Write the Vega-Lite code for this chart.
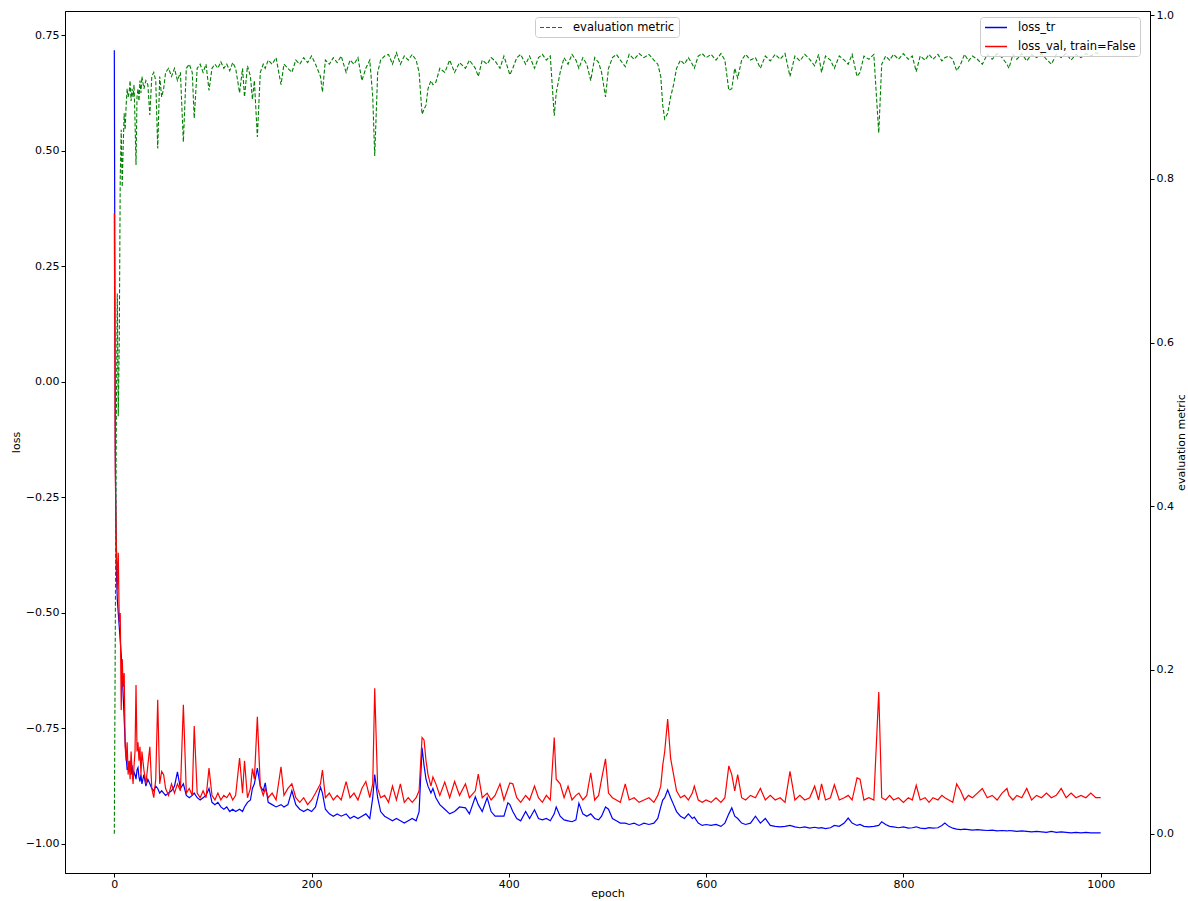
{
  "$schema": "https://vega.github.io/schema/vega-lite/v6.json",
  "width": 1085,
  "height": 862,
  "autosize": {"type": "none"},
  "padding": {"left": 65, "top": 11, "right": 38, "bottom": 28},
  "background": "white",
  "config": {
    "font": "DejaVu Sans",
    "view": {"stroke": "black", "strokeWidth": 1},
    "axis": {"grid": false, "labelFont": "DejaVu Sans", "titleFont": "DejaVu Sans", "labelFontSize": 11, "titleFontSize": 11, "titleFontWeight": "normal", "labelColor": "black", "titleColor": "black", "domainColor": "black", "tickColor": "black", "tickSize": 4, "labelPadding": 2, "domainWidth": 1, "tickWidth": 1, "labelFlush": false, "labelOverlap": false},
    "legend": {"labelFont": "DejaVu Sans", "labelFontSize": 11.5, "labelColor": "black", "symbolType": "M-1,0H3", "symbolSize": 121, "symbolStrokeWidth": 1.5, "padding": 4, "strokeColor": "#cccccc", "fillColor": "rgba(255,255,255,0.8)", "cornerRadius": 3, "rowPadding": 7, "labelOffset": 21, "orient": "none"}
  },
  "data": {"values": [
    {"epoch":0,"loss_tr":0.718,"loss_val":0.365,"metric":0.0},
    {"epoch":1,"loss_tr":-0.15,"loss_val":-0.2,"metric":0.25},
    {"epoch":2,"loss_tr":-0.4,"loss_val":-0.34,"metric":0.5},
    {"epoch":3,"loss_tr":-0.47,"loss_val":-0.45,"metric":0.66},
    {"epoch":4,"loss_tr":-0.5,"loss_val":-0.37,"metric":0.51},
    {"epoch":5,"loss_tr":-0.53,"loss_val":-0.52,"metric":0.6},
    {"epoch":6,"loss_tr":-0.56,"loss_val":-0.5,"metric":0.8},
    {"epoch":7,"loss_tr":-0.59,"loss_val":-0.71,"metric":0.86},
    {"epoch":8,"loss_tr":-0.63,"loss_val":-0.6,"metric":0.79},
    {"epoch":9,"loss_tr":-0.68,"loss_val":-0.66,"metric":0.84},
    {"epoch":10,"loss_tr":-0.73,"loss_val":-0.63,"metric":0.88},
    {"epoch":11,"loss_tr":-0.78,"loss_val":-0.79,"metric":0.86},
    {"epoch":12,"loss_tr":-0.81,"loss_val":-0.82,"metric":0.89},
    {"epoch":13,"loss_tr":-0.84,"loss_val":-0.78,"metric":0.91},
    {"epoch":14,"loss_tr":-0.835,"loss_val":-0.85,"metric":0.9},
    {"epoch":15,"loss_tr":-0.845,"loss_val":-0.82,"metric":0.905},
    {"epoch":16,"loss_tr":-0.82,"loss_val":-0.86,"metric":0.92},
    {"epoch":17,"loss_tr":-0.85,"loss_val":-0.8,"metric":0.895},
    {"epoch":18,"loss_tr":-0.83,"loss_val":-0.84,"metric":0.91},
    {"epoch":19,"loss_tr":-0.86,"loss_val":-0.87,"metric":0.9},
    {"epoch":20,"loss_tr":-0.845,"loss_val":-0.83,"metric":0.915},
    {"epoch":21,"loss_tr":-0.85,"loss_val":-0.8,"metric":0.87},
    {"epoch":22,"loss_tr":-0.86,"loss_val":-0.656,"metric":0.817},
    {"epoch":23,"loss_tr":-0.84,"loss_val":-0.8,"metric":0.9},
    {"epoch":24,"loss_tr":-0.835,"loss_val":-0.78,"metric":0.91},
    {"epoch":25,"loss_tr":-0.855,"loss_val":-0.82,"metric":0.895},
    {"epoch":26,"loss_tr":-0.865,"loss_val":-0.79,"metric":0.92},
    {"epoch":27,"loss_tr":-0.85,"loss_val":-0.85,"metric":0.905},
    {"epoch":28,"loss_tr":-0.87,"loss_val":-0.8,"metric":0.925},
    {"epoch":30,"loss_tr":-0.85,"loss_val":-0.84,"metric":0.91},
    {"epoch":32,"loss_tr":-0.875,"loss_val":-0.87,"metric":0.92},
    {"epoch":34,"loss_tr":-0.86,"loss_val":-0.83,"metric":0.915},
    {"epoch":36,"loss_tr":-0.87,"loss_val":-0.79,"metric":0.878},
    {"epoch":38,"loss_tr":-0.88,"loss_val":-0.88,"metric":0.925},
    {"epoch":40,"loss_tr":-0.885,"loss_val":-0.9,"metric":0.93},
    {"epoch":42,"loss_tr":-0.875,"loss_val":-0.86,"metric":0.92},
    {"epoch":44,"loss_tr":-0.88,"loss_val":-0.688,"metric":0.837},
    {"epoch":46,"loss_tr":-0.89,"loss_val":-0.87,"metric":0.925},
    {"epoch":48,"loss_tr":-0.885,"loss_val":-0.843,"metric":0.9},
    {"epoch":50,"loss_tr":-0.89,"loss_val":-0.85,"metric":0.91},
    {"epoch":52,"loss_tr":-0.895,"loss_val":-0.88,"metric":0.93},
    {"epoch":55,"loss_tr":-0.89,"loss_val":-0.895,"metric":0.935},
    {"epoch":58,"loss_tr":-0.885,"loss_val":-0.87,"metric":0.925},
    {"epoch":61,"loss_tr":-0.875,"loss_val":-0.89,"metric":0.935},
    {"epoch":64,"loss_tr":-0.844,"loss_val":-0.87,"metric":0.92},
    {"epoch":67,"loss_tr":-0.88,"loss_val":-0.885,"metric":0.93},
    {"epoch":70,"loss_tr":-0.87,"loss_val":-0.699,"metric":0.845},
    {"epoch":73,"loss_tr":-0.895,"loss_val":-0.89,"metric":0.935},
    {"epoch":76,"loss_tr":-0.9,"loss_val":-0.88,"metric":0.94},
    {"epoch":79,"loss_tr":-0.895,"loss_val":-0.895,"metric":0.93},
    {"epoch":81,"loss_tr":-0.89,"loss_val":-0.745,"metric":0.874},
    {"epoch":84,"loss_tr":-0.9,"loss_val":-0.89,"metric":0.935},
    {"epoch":87,"loss_tr":-0.905,"loss_val":-0.9,"metric":0.94},
    {"epoch":90,"loss_tr":-0.9,"loss_val":-0.885,"metric":0.93},
    {"epoch":93,"loss_tr":-0.895,"loss_val":-0.9,"metric":0.94},
    {"epoch":96,"loss_tr":-0.88,"loss_val":-0.836,"metric":0.908},
    {"epoch":99,"loss_tr":-0.91,"loss_val":-0.895,"metric":0.935},
    {"epoch":102,"loss_tr":-0.915,"loss_val":-0.905,"metric":0.94},
    {"epoch":105,"loss_tr":-0.91,"loss_val":-0.89,"metric":0.935},
    {"epoch":108,"loss_tr":-0.92,"loss_val":-0.905,"metric":0.943},
    {"epoch":111,"loss_tr":-0.925,"loss_val":-0.895,"metric":0.935},
    {"epoch":114,"loss_tr":-0.92,"loss_val":-0.9,"metric":0.94},
    {"epoch":117,"loss_tr":-0.93,"loss_val":-0.89,"metric":0.932},
    {"epoch":120,"loss_tr":-0.925,"loss_val":-0.905,"metric":0.942},
    {"epoch":123,"loss_tr":-0.93,"loss_val":-0.895,"metric":0.935},
    {"epoch":127,"loss_tr":-0.925,"loss_val":-0.814,"metric":0.905},
    {"epoch":130,"loss_tr":-0.93,"loss_val":-0.89,"metric":0.935},
    {"epoch":132,"loss_tr":-0.92,"loss_val":-0.82,"metric":0.9},
    {"epoch":135,"loss_tr":-0.91,"loss_val":-0.9,"metric":0.938},
    {"epoch":138,"loss_tr":-0.905,"loss_val":-0.88,"metric":0.925},
    {"epoch":140,"loss_tr":-0.88,"loss_val":-0.837,"metric":0.897},
    {"epoch":142,"loss_tr":-0.87,"loss_val":-0.86,"metric":0.92},
    {"epoch":145,"loss_tr":-0.836,"loss_val":-0.725,"metric":0.851},
    {"epoch":148,"loss_tr":-0.875,"loss_val":-0.875,"metric":0.93},
    {"epoch":151,"loss_tr":-0.885,"loss_val":-0.895,"metric":0.94},
    {"epoch":153,"loss_tr":-0.868,"loss_val":-0.88,"metric":0.935},
    {"epoch":156,"loss_tr":-0.91,"loss_val":-0.9,"metric":0.945},
    {"epoch":160,"loss_tr":-0.915,"loss_val":-0.89,"metric":0.94},
    {"epoch":164,"loss_tr":-0.92,"loss_val":-0.905,"metric":0.948},
    {"epoch":169,"loss_tr":-0.915,"loss_val":-0.833,"metric":0.915},
    {"epoch":172,"loss_tr":-0.92,"loss_val":-0.895,"metric":0.94},
    {"epoch":176,"loss_tr":-0.915,"loss_val":-0.88,"metric":0.935},
    {"epoch":180,"loss_tr":-0.885,"loss_val":-0.87,"metric":0.93},
    {"epoch":184,"loss_tr":-0.915,"loss_val":-0.9,"metric":0.945},
    {"epoch":188,"loss_tr":-0.925,"loss_val":-0.91,"metric":0.94},
    {"epoch":192,"loss_tr":-0.93,"loss_val":-0.9,"metric":0.948},
    {"epoch":196,"loss_tr":-0.925,"loss_val":-0.915,"metric":0.942},
    {"epoch":200,"loss_tr":-0.93,"loss_val":-0.905,"metric":0.95},
    {"epoch":204,"loss_tr":-0.92,"loss_val":-0.89,"metric":0.94},
    {"epoch":209,"loss_tr":-0.877,"loss_val":-0.87,"metric":0.925},
    {"epoch":211,"loss_tr":-0.89,"loss_val":-0.84,"metric":0.906},
    {"epoch":214,"loss_tr":-0.925,"loss_val":-0.9,"metric":0.945},
    {"epoch":218,"loss_tr":-0.935,"loss_val":-0.89,"metric":0.94},
    {"epoch":222,"loss_tr":-0.94,"loss_val":-0.905,"metric":0.948},
    {"epoch":226,"loss_tr":-0.935,"loss_val":-0.895,"metric":0.942},
    {"epoch":230,"loss_tr":-0.94,"loss_val":-0.905,"metric":0.95},
    {"epoch":235,"loss_tr":-0.935,"loss_val":-0.865,"metric":0.93},
    {"epoch":239,"loss_tr":-0.945,"loss_val":-0.9,"metric":0.945},
    {"epoch":243,"loss_tr":-0.94,"loss_val":-0.89,"metric":0.94},
    {"epoch":247,"loss_tr":-0.945,"loss_val":-0.905,"metric":0.948},
    {"epoch":251,"loss_tr":-0.94,"loss_val":-0.88,"metric":0.92},
    {"epoch":255,"loss_tr":-0.935,"loss_val":-0.865,"metric":0.935},
    {"epoch":259,"loss_tr":-0.945,"loss_val":-0.9,"metric":0.945},
    {"epoch":262,"loss_tr":-0.9,"loss_val":-0.87,"metric":0.9},
    {"epoch":264,"loss_tr":-0.85,"loss_val":-0.663,"metric":0.828},
    {"epoch":267,"loss_tr":-0.9,"loss_val":-0.88,"metric":0.93},
    {"epoch":270,"loss_tr":-0.93,"loss_val":-0.9,"metric":0.945},
    {"epoch":274,"loss_tr":-0.94,"loss_val":-0.895,"metric":0.95},
    {"epoch":278,"loss_tr":-0.945,"loss_val":-0.91,"metric":0.952},
    {"epoch":282,"loss_tr":-0.95,"loss_val":-0.875,"metric":0.94},
    {"epoch":286,"loss_tr":-0.945,"loss_val":-0.905,"metric":0.954},
    {"epoch":290,"loss_tr":-0.95,"loss_val":-0.87,"metric":0.94},
    {"epoch":294,"loss_tr":-0.955,"loss_val":-0.91,"metric":0.95},
    {"epoch":298,"loss_tr":-0.95,"loss_val":-0.9,"metric":0.945},
    {"epoch":302,"loss_tr":-0.945,"loss_val":-0.91,"metric":0.952},
    {"epoch":306,"loss_tr":-0.95,"loss_val":-0.9,"metric":0.945},
    {"epoch":309,"loss_tr":-0.93,"loss_val":-0.885,"metric":0.93},
    {"epoch":312,"loss_tr":-0.792,"loss_val":-0.77,"metric":0.879},
    {"epoch":314,"loss_tr":-0.83,"loss_val":-0.775,"metric":0.885},
    {"epoch":316,"loss_tr":-0.86,"loss_val":-0.82,"metric":0.89},
    {"epoch":318,"loss_tr":-0.875,"loss_val":-0.85,"metric":0.91},
    {"epoch":321,"loss_tr":-0.89,"loss_val":-0.875,"metric":0.92},
    {"epoch":323,"loss_tr":-0.88,"loss_val":-0.855,"metric":0.915},
    {"epoch":326,"loss_tr":-0.9,"loss_val":-0.87,"metric":0.918},
    {"epoch":330,"loss_tr":-0.915,"loss_val":-0.895,"metric":0.935},
    {"epoch":335,"loss_tr":-0.925,"loss_val":-0.866,"metric":0.93},
    {"epoch":340,"loss_tr":-0.935,"loss_val":-0.9,"metric":0.945},
    {"epoch":345,"loss_tr":-0.93,"loss_val":-0.865,"metric":0.93},
    {"epoch":350,"loss_tr":-0.92,"loss_val":-0.895,"metric":0.942},
    {"epoch":356,"loss_tr":-0.922,"loss_val":-0.87,"metric":0.935},
    {"epoch":360,"loss_tr":-0.935,"loss_val":-0.9,"metric":0.945},
    {"epoch":366,"loss_tr":-0.898,"loss_val":-0.885,"metric":0.935},
    {"epoch":369,"loss_tr":-0.915,"loss_val":-0.849,"metric":0.925},
    {"epoch":373,"loss_tr":-0.93,"loss_val":-0.9,"metric":0.945},
    {"epoch":378,"loss_tr":-0.9,"loss_val":-0.89,"metric":0.94},
    {"epoch":382,"loss_tr":-0.93,"loss_val":-0.905,"metric":0.948},
    {"epoch":386,"loss_tr":-0.94,"loss_val":-0.895,"metric":0.944},
    {"epoch":391,"loss_tr":-0.94,"loss_val":-0.87,"metric":0.935},
    {"epoch":395,"loss_tr":-0.94,"loss_val":-0.905,"metric":0.95},
    {"epoch":399,"loss_tr":-0.911,"loss_val":-0.88,"metric":0.935},
    {"epoch":401,"loss_tr":-0.915,"loss_val":-0.868,"metric":0.927},
    {"epoch":404,"loss_tr":-0.93,"loss_val":-0.87,"metric":0.935},
    {"epoch":408,"loss_tr":-0.945,"loss_val":-0.9,"metric":0.948},
    {"epoch":412,"loss_tr":-0.95,"loss_val":-0.91,"metric":0.952},
    {"epoch":417,"loss_tr":-0.93,"loss_val":-0.895,"metric":0.94},
    {"epoch":421,"loss_tr":-0.945,"loss_val":-0.905,"metric":0.95},
    {"epoch":426,"loss_tr":-0.926,"loss_val":-0.875,"metric":0.935},
    {"epoch":430,"loss_tr":-0.945,"loss_val":-0.9,"metric":0.948},
    {"epoch":434,"loss_tr":-0.948,"loss_val":-0.91,"metric":0.952},
    {"epoch":438,"loss_tr":-0.945,"loss_val":-0.895,"metric":0.945},
    {"epoch":442,"loss_tr":-0.95,"loss_val":-0.905,"metric":0.95},
    {"epoch":446,"loss_tr":-0.935,"loss_val":-0.77,"metric":0.877},
    {"epoch":448,"loss_tr":-0.92,"loss_val":-0.86,"metric":0.905},
    {"epoch":452,"loss_tr":-0.94,"loss_val":-0.87,"metric":0.93},
    {"epoch":456,"loss_tr":-0.948,"loss_val":-0.9,"metric":0.948},
    {"epoch":460,"loss_tr":-0.95,"loss_val":-0.875,"metric":0.94},
    {"epoch":464,"loss_tr":-0.952,"loss_val":-0.905,"metric":0.952},
    {"epoch":468,"loss_tr":-0.948,"loss_val":-0.895,"metric":0.945},
    {"epoch":471,"loss_tr":-0.912,"loss_val":-0.89,"metric":0.935},
    {"epoch":475,"loss_tr":-0.935,"loss_val":-0.905,"metric":0.948},
    {"epoch":479,"loss_tr":-0.94,"loss_val":-0.895,"metric":0.94},
    {"epoch":483,"loss_tr":-0.935,"loss_val":-0.846,"metric":0.92},
    {"epoch":487,"loss_tr":-0.945,"loss_val":-0.905,"metric":0.948},
    {"epoch":491,"loss_tr":-0.948,"loss_val":-0.895,"metric":0.942},
    {"epoch":494,"loss_tr":-0.94,"loss_val":-0.86,"metric":0.93},
    {"epoch":498,"loss_tr":-0.92,"loss_val":-0.816,"metric":0.9},
    {"epoch":501,"loss_tr":-0.925,"loss_val":-0.89,"metric":0.935},
    {"epoch":505,"loss_tr":-0.945,"loss_val":-0.9,"metric":0.948},
    {"epoch":509,"loss_tr":-0.95,"loss_val":-0.905,"metric":0.952},
    {"epoch":513,"loss_tr":-0.955,"loss_val":-0.91,"metric":0.945},
    {"epoch":518,"loss_tr":-0.955,"loss_val":-0.87,"metric":0.937},
    {"epoch":522,"loss_tr":-0.958,"loss_val":-0.905,"metric":0.952},
    {"epoch":527,"loss_tr":-0.955,"loss_val":-0.9,"metric":0.946},
    {"epoch":532,"loss_tr":-0.96,"loss_val":-0.91,"metric":0.953},
    {"epoch":537,"loss_tr":-0.955,"loss_val":-0.905,"metric":0.948},
    {"epoch":542,"loss_tr":-0.958,"loss_val":-0.9,"metric":0.952},
    {"epoch":547,"loss_tr":-0.955,"loss_val":-0.91,"metric":0.945},
    {"epoch":551,"loss_tr":-0.945,"loss_val":-0.895,"metric":0.94},
    {"epoch":554,"loss_tr":-0.92,"loss_val":-0.875,"metric":0.925},
    {"epoch":556,"loss_tr":-0.905,"loss_val":-0.83,"metric":0.89},
    {"epoch":558,"loss_tr":-0.9,"loss_val":-0.8,"metric":0.873},
    {"epoch":561,"loss_tr":-0.883,"loss_val":-0.73,"metric":0.88},
    {"epoch":564,"loss_tr":-0.9,"loss_val":-0.815,"metric":0.9},
    {"epoch":567,"loss_tr":-0.915,"loss_val":-0.85,"metric":0.915},
    {"epoch":570,"loss_tr":-0.93,"loss_val":-0.885,"metric":0.935},
    {"epoch":574,"loss_tr":-0.94,"loss_val":-0.9,"metric":0.945},
    {"epoch":578,"loss_tr":-0.945,"loss_val":-0.895,"metric":0.94},
    {"epoch":582,"loss_tr":-0.935,"loss_val":-0.905,"metric":0.948},
    {"epoch":586,"loss_tr":-0.945,"loss_val":-0.89,"metric":0.94},
    {"epoch":588,"loss_tr":-0.942,"loss_val":-0.875,"metric":0.935},
    {"epoch":592,"loss_tr":-0.955,"loss_val":-0.905,"metric":0.95},
    {"epoch":596,"loss_tr":-0.96,"loss_val":-0.91,"metric":0.953},
    {"epoch":600,"loss_tr":-0.958,"loss_val":-0.905,"metric":0.948},
    {"epoch":605,"loss_tr":-0.96,"loss_val":-0.91,"metric":0.952},
    {"epoch":610,"loss_tr":-0.958,"loss_val":-0.9,"metric":0.945},
    {"epoch":615,"loss_tr":-0.962,"loss_val":-0.91,"metric":0.953},
    {"epoch":619,"loss_tr":-0.955,"loss_val":-0.9,"metric":0.945},
    {"epoch":623,"loss_tr":-0.935,"loss_val":-0.831,"metric":0.908},
    {"epoch":626,"loss_tr":-0.922,"loss_val":-0.85,"metric":0.91},
    {"epoch":629,"loss_tr":-0.94,"loss_val":-0.885,"metric":0.935},
    {"epoch":632,"loss_tr":-0.945,"loss_val":-0.85,"metric":0.923},
    {"epoch":636,"loss_tr":-0.955,"loss_val":-0.9,"metric":0.945},
    {"epoch":640,"loss_tr":-0.958,"loss_val":-0.905,"metric":0.952},
    {"epoch":645,"loss_tr":-0.955,"loss_val":-0.895,"metric":0.945},
    {"epoch":650,"loss_tr":-0.94,"loss_val":-0.9,"metric":0.948},
    {"epoch":655,"loss_tr":-0.955,"loss_val":-0.88,"metric":0.935},
    {"epoch":660,"loss_tr":-0.945,"loss_val":-0.905,"metric":0.95},
    {"epoch":665,"loss_tr":-0.96,"loss_val":-0.895,"metric":0.944},
    {"epoch":670,"loss_tr":-0.962,"loss_val":-0.905,"metric":0.952},
    {"epoch":675,"loss_tr":-0.963,"loss_val":-0.9,"metric":0.946},
    {"epoch":680,"loss_tr":-0.962,"loss_val":-0.91,"metric":0.953},
    {"epoch":685,"loss_tr":-0.96,"loss_val":-0.843,"metric":0.925},
    {"epoch":690,"loss_tr":-0.963,"loss_val":-0.905,"metric":0.95},
    {"epoch":695,"loss_tr":-0.965,"loss_val":-0.895,"metric":0.944},
    {"epoch":700,"loss_tr":-0.963,"loss_val":-0.905,"metric":0.952},
    {"epoch":705,"loss_tr":-0.966,"loss_val":-0.9,"metric":0.946},
    {"epoch":710,"loss_tr":-0.964,"loss_val":-0.875,"metric":0.938},
    {"epoch":714,"loss_tr":-0.966,"loss_val":-0.905,"metric":0.952},
    {"epoch":717,"loss_tr":-0.965,"loss_val":-0.87,"metric":0.93},
    {"epoch":721,"loss_tr":-0.967,"loss_val":-0.905,"metric":0.95},
    {"epoch":726,"loss_tr":-0.965,"loss_val":-0.9,"metric":0.945},
    {"epoch":730,"loss_tr":-0.96,"loss_val":-0.872,"metric":0.935},
    {"epoch":735,"loss_tr":-0.962,"loss_val":-0.905,"metric":0.95},
    {"epoch":740,"loss_tr":-0.955,"loss_val":-0.9,"metric":0.945},
    {"epoch":744,"loss_tr":-0.944,"loss_val":-0.895,"metric":0.94},
    {"epoch":748,"loss_tr":-0.955,"loss_val":-0.905,"metric":0.952},
    {"epoch":753,"loss_tr":-0.96,"loss_val":-0.857,"metric":0.925},
    {"epoch":756,"loss_tr":-0.958,"loss_val":-0.86,"metric":0.93},
    {"epoch":760,"loss_tr":-0.962,"loss_val":-0.905,"metric":0.95},
    {"epoch":765,"loss_tr":-0.963,"loss_val":-0.9,"metric":0.946},
    {"epoch":770,"loss_tr":-0.962,"loss_val":-0.905,"metric":0.952},
    {"epoch":775,"loss_tr":-0.96,"loss_val":-0.671,"metric":0.856},
    {"epoch":778,"loss_tr":-0.952,"loss_val":-0.9,"metric":0.94},
    {"epoch":782,"loss_tr":-0.958,"loss_val":-0.905,"metric":0.95},
    {"epoch":786,"loss_tr":-0.962,"loss_val":-0.895,"metric":0.945},
    {"epoch":790,"loss_tr":-0.963,"loss_val":-0.905,"metric":0.952},
    {"epoch":795,"loss_tr":-0.965,"loss_val":-0.9,"metric":0.946},
    {"epoch":800,"loss_tr":-0.963,"loss_val":-0.91,"metric":0.953},
    {"epoch":805,"loss_tr":-0.966,"loss_val":-0.9,"metric":0.946},
    {"epoch":809,"loss_tr":-0.965,"loss_val":-0.905,"metric":0.95},
    {"epoch":813,"loss_tr":-0.963,"loss_val":-0.873,"metric":0.931},
    {"epoch":817,"loss_tr":-0.966,"loss_val":-0.905,"metric":0.95},
    {"epoch":822,"loss_tr":-0.967,"loss_val":-0.9,"metric":0.945},
    {"epoch":826,"loss_tr":-0.965,"loss_val":-0.91,"metric":0.952},
    {"epoch":830,"loss_tr":-0.966,"loss_val":-0.9,"metric":0.946},
    {"epoch":835,"loss_tr":-0.965,"loss_val":-0.905,"metric":0.952},
    {"epoch":839,"loss_tr":-0.96,"loss_val":-0.895,"metric":0.944},
    {"epoch":842,"loss_tr":-0.955,"loss_val":-0.9,"metric":0.948},
    {"epoch":846,"loss_tr":-0.962,"loss_val":-0.905,"metric":0.95},
    {"epoch":850,"loss_tr":-0.966,"loss_val":-0.91,"metric":0.946},
    {"epoch":854,"loss_tr":-0.968,"loss_val":-0.87,"metric":0.932},
    {"epoch":858,"loss_tr":-0.969,"loss_val":-0.885,"metric":0.94},
    {"epoch":862,"loss_tr":-0.968,"loss_val":-0.905,"metric":0.952},
    {"epoch":866,"loss_tr":-0.969,"loss_val":-0.895,"metric":0.944},
    {"epoch":870,"loss_tr":-0.97,"loss_val":-0.9,"metric":0.95},
    {"epoch":875,"loss_tr":-0.969,"loss_val":-0.89,"metric":0.946},
    {"epoch":880,"loss_tr":-0.97,"loss_val":-0.88,"metric":0.94},
    {"epoch":885,"loss_tr":-0.971,"loss_val":-0.9,"metric":0.952},
    {"epoch":890,"loss_tr":-0.97,"loss_val":-0.895,"metric":0.946},
    {"epoch":895,"loss_tr":-0.972,"loss_val":-0.905,"metric":0.953},
    {"epoch":900,"loss_tr":-0.971,"loss_val":-0.89,"metric":0.948},
    {"epoch":905,"loss_tr":-0.972,"loss_val":-0.88,"metric":0.94},
    {"epoch":907,"loss_tr":-0.971,"loss_val":-0.895,"metric":0.935},
    {"epoch":911,"loss_tr":-0.972,"loss_val":-0.905,"metric":0.952},
    {"epoch":915,"loss_tr":-0.973,"loss_val":-0.895,"metric":0.946},
    {"epoch":920,"loss_tr":-0.972,"loss_val":-0.9,"metric":0.953},
    {"epoch":925,"loss_tr":-0.973,"loss_val":-0.88,"metric":0.944},
    {"epoch":930,"loss_tr":-0.974,"loss_val":-0.905,"metric":0.952},
    {"epoch":935,"loss_tr":-0.973,"loss_val":-0.895,"metric":0.948},
    {"epoch":940,"loss_tr":-0.974,"loss_val":-0.9,"metric":0.953},
    {"epoch":945,"loss_tr":-0.975,"loss_val":-0.89,"metric":0.946},
    {"epoch":950,"loss_tr":-0.973,"loss_val":-0.9,"metric":0.94},
    {"epoch":955,"loss_tr":-0.975,"loss_val":-0.895,"metric":0.952},
    {"epoch":960,"loss_tr":-0.974,"loss_val":-0.88,"metric":0.948},
    {"epoch":965,"loss_tr":-0.975,"loss_val":-0.9,"metric":0.953},
    {"epoch":970,"loss_tr":-0.976,"loss_val":-0.89,"metric":0.945},
    {"epoch":975,"loss_tr":-0.975,"loss_val":-0.9,"metric":0.952},
    {"epoch":980,"loss_tr":-0.976,"loss_val":-0.895,"metric":0.948},
    {"epoch":985,"loss_tr":-0.975,"loss_val":-0.9,"metric":0.953},
    {"epoch":990,"loss_tr":-0.976,"loss_val":-0.89,"metric":0.95},
    {"epoch":995,"loss_tr":-0.976,"loss_val":-0.9,"metric":0.954},
    {"epoch":1000,"loss_tr":-0.976,"loss_val":-0.9,"metric":0.952}
  ]},
  "encoding": {
    "x": {"field": "epoch", "type": "quantitative", "scale": {"domain": [-50, 1050], "nice": false, "zero": false}, "axis": {"title": "epoch", "values": [0, 200, 400, 600, 800, 1000], "format": "d", "labelPadding": 1, "titlePadding": -2}}
  },
  "layer": [
    {
      "layer": [
        {
          "mark": {"type": "line", "strokeWidth": 1.2, "clip": true},
          "encoding": {
            "y": {"field": "loss_tr", "type": "quantitative", "title": "loss", "scale": {"domain": [-1.063, 0.803], "nice": false, "zero": false}, "axis": {"orient": "left", "values": [-1, -0.75, -0.5, -0.25, 0, 0.25, 0.5, 0.75], "format": ".2f", "titlePadding": 4}},
            "color": {"datum": "loss_tr", "type": "nominal", "scale": {"domain": ["loss_tr", "loss_val, train=False"], "range": ["#0000ff", "#ff0000"]}, "legend": {"title": null, "legendX": 915, "legendY": 6}}
          }
        },
        {
          "mark": {"type": "line", "strokeWidth": 1.2, "clip": true},
          "encoding": {
            "y": {"field": "loss_val", "type": "quantitative", "title": "loss"},
            "color": {"datum": "loss_val, train=False", "type": "nominal"}
          }
        }
      ]
    },
    {
      "mark": {"type": "line", "strokeWidth": 1.1, "strokeDash": [4, 2], "clip": true},
      "encoding": {
        "y": {"field": "metric", "type": "quantitative", "title": "evaluation metric", "scale": {"domain": [-0.048, 1.005], "nice": false, "zero": false}, "axis": {"orient": "right", "values": [0, 0.2, 0.4, 0.6, 0.8, 1.0], "format": ".1f", "titleAngle": 270, "titlePadding": 13}},
        "color": {"datum": "evaluation metric", "type": "nominal", "scale": {"domain": ["evaluation metric"], "range": ["#008000"]}, "legend": {"title": null, "legendX": 470, "legendY": 6, "symbolDash": [4, 2], "symbolStrokeWidth": 1.2}}
      }
    }
  ],
  "resolve": {"scale": {"y": "independent", "color": "independent"}}
}
